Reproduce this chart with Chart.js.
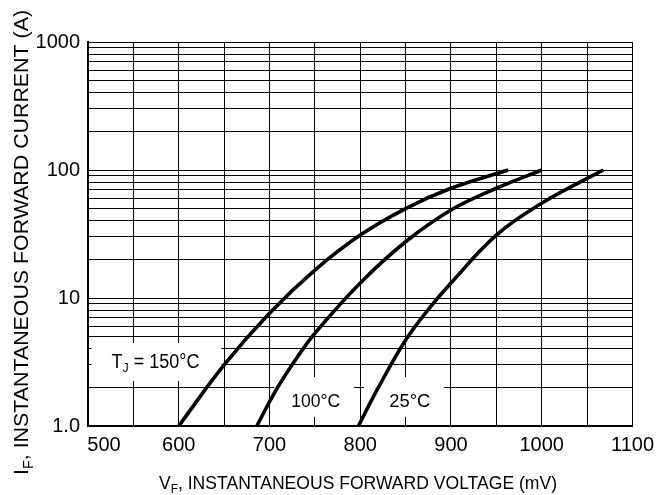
<!DOCTYPE html>
<html><head><meta charset="utf-8">
<script src="https://cdn.jsdelivr.net/npm/chart.js@4.4.1/dist/chart.umd.min.js"></script>
<style>html,body{margin:0;padding:0;background:#fff}#wrap{width:661px;height:495px}</style>
</head><body><div id="wrap"><canvas id="c" width="661" height="495"></canvas></div>
<script>
// ---- data ----
const xGridValues = [500,550,600,650,700,750,800,850,900,950,1000,1050,1100];
const xTickLabels = ['500','600','700','800','900','1000','1100'];
const yGridValues = [1,2,3,4,5,6,7,8,9,10,20,30,40,50,60,70,80,90,100,200,300,400,500,600,700,800,900,1000];
const yTickLabels = ['1.0','10','100','1000'];
const seriesNames = ['150°C','100°C','25°C'];
const vf150 = [600, 650, 700, 750, 800, 850, 900, 963];
const if150 = [1.0, 3.0, 7.6, 16.5, 31, 50, 72, 100];
const vf100 = [686, 708, 730, 750, 800, 850, 900, 950, 1000];
const if100 = [1.0, 1.95, 3.4, 5.3, 13.1, 27.5, 48.7, 72, 100];
const vf25 = [798, 820, 850, 876, 900, 950, 1000, 1050, 1068];
const if25 = [1.0, 2.0, 4.7, 8.3, 13.1, 31, 55, 86, 100];

const FONT = '"Liberation Sans", Arial, Helvetica, sans-serif';
const toPts = (xs, ys) => xs.map((v, i) => ({x: v, y: ys[i]}));

function drawParts(ctx, parts, size, targetW, align) {
  const subSize = size * 0.68;
  let w = 0;
  parts.forEach(p => { ctx.font = (p.sub ? subSize : size) + 'px ' + FONT; p.w = ctx.measureText(p.t).width; w += p.w; });
  const sx = targetW ? targetW / w : 1;
  ctx.save();
  ctx.scale(sx, 1);
  ctx.textAlign = 'left'; ctx.textBaseline = 'alphabetic'; ctx.fillStyle = '#000';
  let cx = align === 'center' ? -w / 2 : 0;
  parts.forEach(p => {
    ctx.font = (p.sub ? subSize : size) + 'px ' + FONT;
    ctx.fillText(p.t, cx, p.sub ? size * 0.22 : 0);
    cx += p.w;
  });
  ctx.restore();
}

const labelBoxes = [
  {x0: 504, x1: 647, y0: 2.25, y1: 4.45},
  {x0: 705, x1: 793, y0: 1.18, y1: 2.41},
  {x0: 804, x1: 892, y0: 1.18, y1: 2.41}
];

const annot = {
  id: 'annot',
  beforeDatasetsDraw(chart) {
    const ctx = chart.ctx, xs = chart.scales.x, ys = chart.scales.y;
    ctx.save();
    ctx.fillStyle = '#fff';
    labelBoxes.forEach(b => {
      const l = xs.getPixelForValue(b.x0), r = xs.getPixelForValue(b.x1);
      const t = ys.getPixelForValue(b.y1), btm = ys.getPixelForValue(b.y0);
      ctx.fillRect(l, t, r - l, btm - t);
    });
    ctx.restore();
  },
  afterDraw(chart) {
    const ctx = chart.ctx, xs = chart.scales.x, ys = chart.scales.y;
    ctx.save();
    ctx.font = '20px ' + FONT; ctx.fillStyle = '#000'; ctx.textAlign = 'center'; ctx.textBaseline = 'middle';
    ctx.fillText(xTickLabels[0], xs.getPixelForValue(500) + 16, xs.top + 19);
    ctx.restore();
    ctx.save();
    ctx.translate(xs.getPixelForValue(526), ys.getPixelForValue(2.84));
    drawParts(ctx, [{t:'T'},{t:'J', sub:true},{t:' = ' + seriesNames[0]}], 20, 88, 'left');
    ctx.restore();
    ctx.save();
    ctx.translate(xs.getPixelForValue(724), ys.getPixelForValue(1.41));
    drawParts(ctx, [{t: seriesNames[1]}], 18, 49, 'left');
    ctx.restore();
    ctx.save();
    ctx.translate(xs.getPixelForValue(832), ys.getPixelForValue(1.41));
    drawParts(ctx, [{t: seriesNames[2]}], 18, 41, 'left');
    ctx.restore();
    ctx.save();
    ctx.translate(358, 489);
    drawParts(ctx, [{t:'V'},{t:'F', sub:true},{t:', INSTANTANEOUS FORWARD VOLTAGE (mV)'}], 18, 398, 'center');
    ctx.restore();
    ctx.save();
    ctx.translate(28, 242.5);
    ctx.rotate(-Math.PI / 2);
    drawParts(ctx, [{t:'I'},{t:'F', sub:true},{t:', INSTANTANEOUS FORWARD CURRENT (A)'}], 21, 465, 'center');
    ctx.restore();
  }
};

const lineStyle = {borderColor: '#000', borderWidth: 3.6, pointRadius: 0, fill: false, tension: 0.4};

new Chart(document.getElementById('c'), {
  type: 'line',
  data: {
    datasets: [
      Object.assign({label: seriesNames[0], data: toPts(vf150, if150)}, lineStyle),
      Object.assign({label: seriesNames[1], data: toPts(vf100, if100)}, lineStyle),
      Object.assign({label: seriesNames[2], data: toPts(vf25, if25)}, lineStyle)
    ]
  },
  options: {
    responsive: false,
    animation: false,
    events: [],
    layout: {padding: {top: 42, right: 26, left: 0, bottom: 0}},
    plugins: {legend: {display: false}, tooltip: {enabled: false}},
    scales: {
      x: {
        type: 'linear', min: 500, max: 1100,
        afterBuildTicks: s => { s.ticks = xGridValues.map(v => ({value: v})); },
        afterFit: s => { s.height = 69; },
        grid: {color: '#000', lineWidth: 1, drawTicks: false},
        border: {display: true, color: '#000', width: 2},
        ticks: {
          autoSkip: false, maxRotation: 0, padding: 7,
          font: {family: FONT, size: 20},
          color: ctx => (ctx.tick && ctx.tick.value === 500) ? 'rgba(0,0,0,0)' : '#000',
          callback: v => { const i = xTickLabels.indexOf(String(v)); return i >= 0 ? xTickLabels[i] : ''; }
        }
      },
      y: {
        type: 'logarithmic', min: 1, max: 1000,
        afterBuildTicks: s => { s.ticks = yGridValues.map(v => ({value: v})); },
        afterFit: s => { s.width = 88; },
        grid: {color: '#000', lineWidth: 1, drawTicks: false},
        border: {display: true, color: '#000', width: 2},
        ticks: {
          autoSkip: false, padding: 8,
          font: {family: FONT, size: 20}, color: '#000',
          callback: v => ({1: yTickLabels[0], 10: yTickLabels[1], 100: yTickLabels[2], 1000: yTickLabels[3]})[v] || ''
        }
      }
    }
  },
  plugins: [annot]
});
</script></body></html>
